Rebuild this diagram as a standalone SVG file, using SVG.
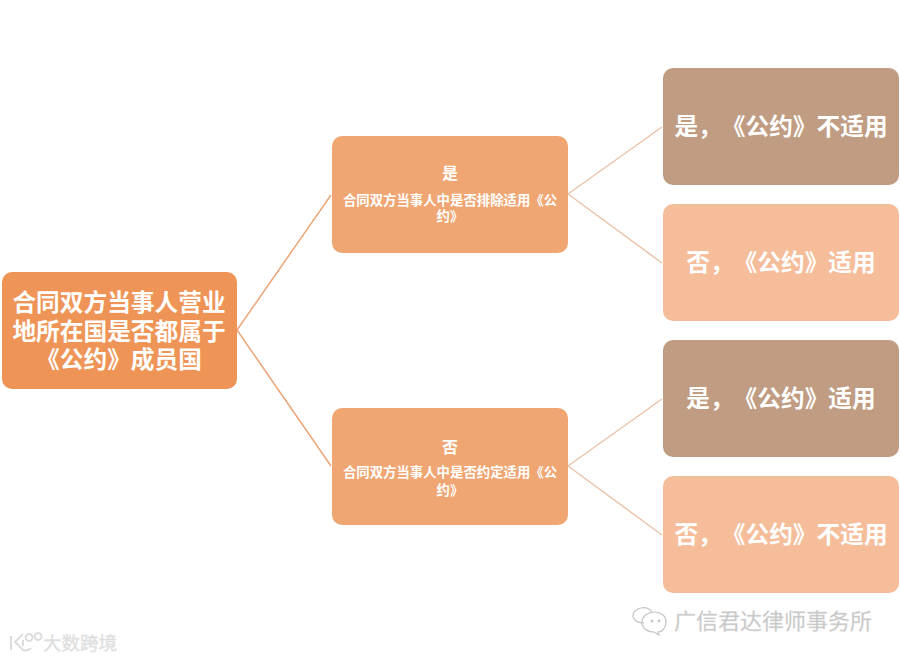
<svg xmlns="http://www.w3.org/2000/svg" width="900" height="661" viewBox="0 0 900 661">
<style>
text{font-family:"Liberation Sans","Noto Sans CJK SC",sans-serif;fill:#fff;text-anchor:middle;font-weight:700;text-spacing-trim:space-all}
.l{font-size:23.7px}.s{font-size:13.4px}.h{font-size:16px}
.c{fill:none;stroke-width:1.5}
.w{fill:#c4c4c4;font-weight:400;stroke:#e0e0e0;stroke-width:.3}
</style>
<rect width="900" height="661" fill="#fff"/>
<g id="connectors">
<path class="c" stroke="#eda57a" d="M237 330L331 195M237 330L331 466"/>
<path class="c" stroke="#ecc3ab" d="M568 194L662 127M568 194L662 263M568 466L662 399M568 466L662 535"/>
</g>
<g id="root"><rect x="2" y="272" width="235" height="117" rx="10" fill="#ef9457"/>
<text class="l" x="119" y="311">合同双方当事人营业</text><text class="l" x="119" y="340">地所在国是否都属于</text><text class="l" x="119" y="368">《公约》成员国</text></g>
<g id="yes"><rect x="332" y="136" width="236" height="117" rx="10" fill="#f0a672"/>
<text class="h" x="450" y="179">是</text><text class="s" x="450" y="205">合同双方当事人中是否排除适用《公</text><text class="s" x="450" y="221">约》</text></g>
<g id="no"><rect x="332" y="408" width="236" height="117" rx="10" fill="#f0a672"/>
<text class="h" x="450" y="453">否</text><text class="s" x="450" y="477">合同双方当事人中是否约定适用《公</text><text class="s" x="450" y="495">约》</text></g>
<g id="r1"><rect x="663" y="68" width="236" height="117" rx="10" fill="#c09c82"/><text class="l" x="781" y="135">是，《公约》不适用</text></g>
<g id="r2"><rect x="663" y="204" width="236" height="117" rx="10" fill="#f5bd9a"/><text class="l" x="781" y="271">否，《公约》适用</text></g>
<g id="r3"><rect x="663" y="340" width="236" height="117" rx="10" fill="#c09c82"/><text class="l" x="781" y="407">是，《公约》适用</text></g>
<g id="r4"><rect x="663" y="476" width="236" height="117" rx="10" fill="#f5bd9a"/><text class="l" x="781" y="543">否，《公约》不适用</text></g>
<g id="mark1" fill="none" stroke="#c4c4c4" stroke-width="1.2"><path d="M644 623c-5 0-9-1-11-6-1-4 3-8 8-9 5-1 9 1 11 4"/><path d="M655 612c6 0 11 4 11 10s-4 10-8 10l1 3-5-3c-7 0-12-4-12-10s6-10 13-10z"/><circle cx="652" cy="621" r=".8" fill="#c4c4c4"/><circle cx="659" cy="621" r=".8" fill="#c4c4c4"/></g>
<text class="w" x="773" y="629" style="font-size:22px">广信君达律师事务所</text>
<g id="mark2" fill="none" stroke="#dcdcdc" stroke-width="2"><path d="M11 636v14M23 634l-8 8 8 8c3 1 6 0 8-2M23 640v6M29 634a3.5 3.5 0 1 0 .1 0M38 633a3.5 3.5 0 1 0 .1 0"/></g>
<text class="w" x="80" y="650" style="font-size:18.5px;fill:#dedede">大数跨境</text>
</svg>
